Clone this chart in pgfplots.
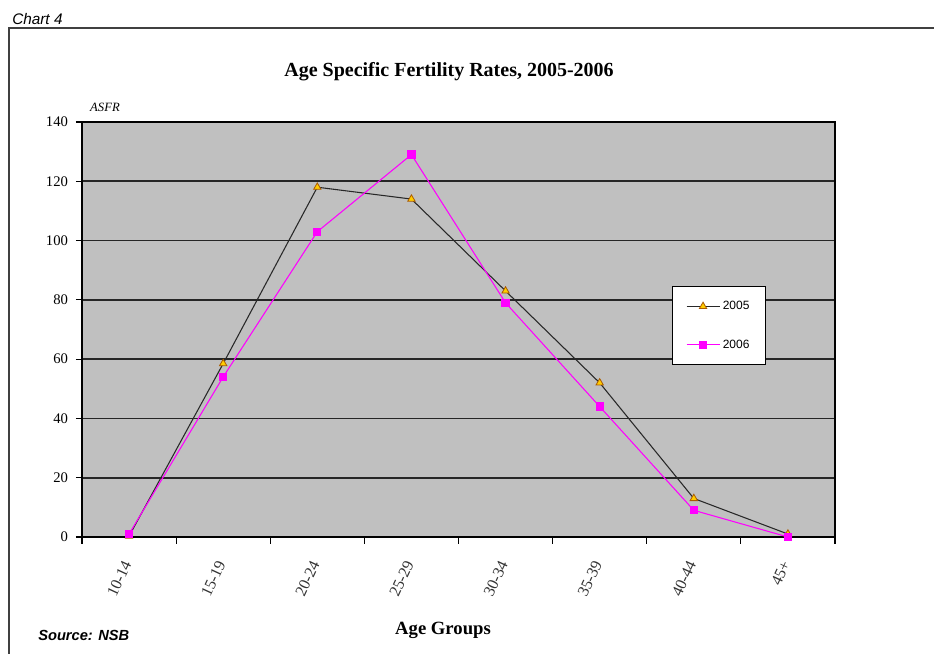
\documentclass[border=0pt]{standalone}
\usepackage{pgfplots}
\pgfplotsset{compat=1.18}
\usepackage{fontspec}
\setmainfont{Liberation Serif}
\setsansfont{Liberation Sans}

\definecolor{plotgray}{RGB}{192,192,192}
\definecolor{mag}{RGB}{255,0,255}
\definecolor{tri}{RGB}{255,204,0}
\definecolor{triedge}{RGB}{170,90,0}
\definecolor{line05}{RGB}{40,40,40}

\begin{document}
\begin{tikzpicture}
% pixel grid of the reference, y going down, origin = plot area corner
\begin{scope}[x=0.75pt,y=-0.75pt,shift={(-61.5pt,402.75pt)}]
  \path[use as bounding box] (0,0) rectangle (934,653);
  \draw[line width=1.1pt, black!75] (9,670) -- (9,28) -- (950,28);
  \node[anchor=base west, font=\sffamily\itshape\fontsize{11.5}{12}\selectfont, inner sep=0pt] at (12,25) {Chart 4};
  \node[font=\bfseries\fontsize{15}{17}\selectfont] at (449,72) {Age Specific Fertility Rates, 2005-2006};
  \node[font=\itshape\fontsize{9.5}{11}\selectfont] at (105,107) {ASFR};
  \node[font=\bfseries\fontsize{14}{16}\selectfont] at (443,630) {Age Groups};
  \node[anchor=west, font=\sffamily\bfseries\itshape\fontsize{11}{12}\selectfont, inner sep=0pt] at (38,635) {Source: NSB};
\end{scope}

\begin{axis}[
    at={(0,0)}, anchor=south west,
    scale only axis,
    width=564.75pt, height=311.25pt,
    xmin=0.5, xmax=8.5,
    ymin=0, ymax=140,
    xtick={1,2,3,4,5,6,7,8},
    xticklabels={10-14,15-19,20-24,25-29,30-34,35-39,40-44,45+},
    minor xtick={0.5,1.5,2.5,3.5,4.5,5.5,6.5,7.5,8.5},
    ytick={0,20,40,60,80,100,120,140},
    tick pos=left,
    ymajorgrids=true,
    grid style={black!85, line width=1.2pt},
    axis background/.style={fill=plotgray},
    axis line style={line width=1.9pt},
    tick align=outside,
    tick style={black, line width=0.9pt},
    major x tick style={draw=none},
    major tick length=4.5pt,
    minor tick length=5pt,
    /pgf/number format/assume math mode=true,
    every tick label/.append style={font=\fontsize{11}{12}\selectfont},
    xticklabel style={yshift=-11pt, rotate=65, anchor=east, text=black!80,
        font=\fontsize{12}{13}\selectfont},
    yticklabel style={xshift=-2.5pt},
    legend style={at={(0.7835,0.605)}, anchor=north west, draw=black, line width=1pt,
        fill=white, font=\sffamily\fontsize{9}{10}\selectfont,
        inner xsep=10pt, inner ysep=9pt, row sep=17pt},
    legend cell align=left,
    legend image code/.code={%
        \draw[mark repeat=2,mark phase=2,#1] plot coordinates {(0pt,0pt) (12.4pt,0pt) (24.8pt,0pt)};},
]
\addplot[line05, line width=0.8pt, mark=triangle*, mark size=3.2pt,
    mark options={fill=tri, draw=triedge, line width=0.6pt}]
    coordinates {
    (1,0.3) (2,58.5) (3,118) (4,114) (5,83) (6,52) (7,13) (8,1)
};
\addplot[mag, line width=0.8pt, mark=square*, mark size=2.7pt,
    mark options={fill=mag, draw=mag}]
    coordinates {
    (1,1) (2,54) (3,103) (4,129) (5,79) (6,44) (7,9) (8,0)
};
\legend{2005,2006}
\end{axis}
\end{tikzpicture}
\end{document}
